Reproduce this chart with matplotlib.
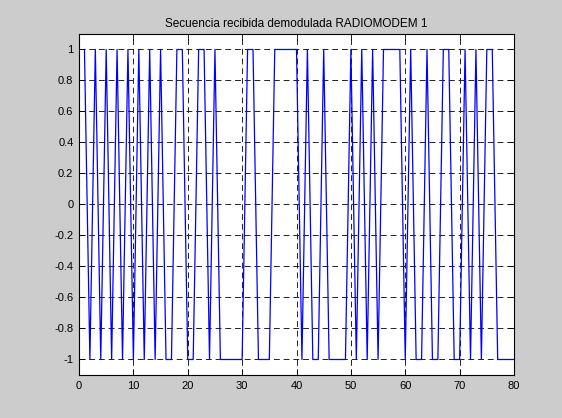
""" Secuencia demodulada
Replots the received demodulated sequence of RADIOMODEM 1."""

import matplotlib
matplotlib.use('Agg')
import matplotlib.pyplot as plt

plt.rcParams['font.family'] = ['Liberation Sans', 'DejaVu Sans']
plt.rcParams['axes.unicode_minus'] = False

# received symbols, one per sample (samples 1..80)
symbols = [1, -1, 1, -1, 1, -1, 1, -1, 1, -1,
           1, -1, 1, -1, 1, -1, -1, 1, 1, -1,
           -1, 1, 1, -1, 1, -1, -1, -1, -1, -1,
           1, 1, -1, -1, -1, 1, 1, 1, 1, 1,
           -1, 1, -1, -1, 1, -1, -1, -1, -1, 1,
           -1, 1, -1, 1, -1, 1, 1, 1, 1, -1,
           1, -1, -1, 1, -1, -1, 1, 1, -1, -1,
           1, -1, 1, -1, 1, 1, -1, -1, -1, -1]
samples = list(range(1, len(symbols) + 1))

xticks = [0, 10, 20, 30, 40, 50, 60, 70, 80]
yticks = [-1, -0.8, -0.6, -0.4, -0.2, 0, 0.2, 0.4, 0.6, 0.8, 1]
ylabels = ['-1', '-0.8', '-0.6', '-0.4', '-0.2', '0', '0.2', '0.4', '0.6', '0.8', '1']

fig = plt.figure(figsize=(5.62, 4.18), dpi=100, facecolor='#cccccc')
ax = fig.add_axes([0.1406, 0.1029, 0.774, 0.8158])
ax.set_facecolor('white')

ax.plot(samples, symbols, color='#0000ff', linewidth=0.9)

ax.set_title('Secuencia recibida demodulada RADIOMODEM 1', fontsize=8.5, pad=5)
ax.set_xlim(0, 80)
ax.set_ylim(-1.1, 1.1)
ax.set_xticks(xticks)
ax.set_yticks(yticks)
ax.set_yticklabels(ylabels)
ax.tick_params(direction='in', length=4, width=0.6, labelsize=8,
               top=True, right=True, pad=4)
for s in ax.spines.values():
    s.set_linewidth(0.8)

ax.grid(True, color='#222222', linestyle=(0, (6, 4)), linewidth=0.7)

fig.savefig('out.png', dpi=100, facecolor=fig.get_facecolor())
